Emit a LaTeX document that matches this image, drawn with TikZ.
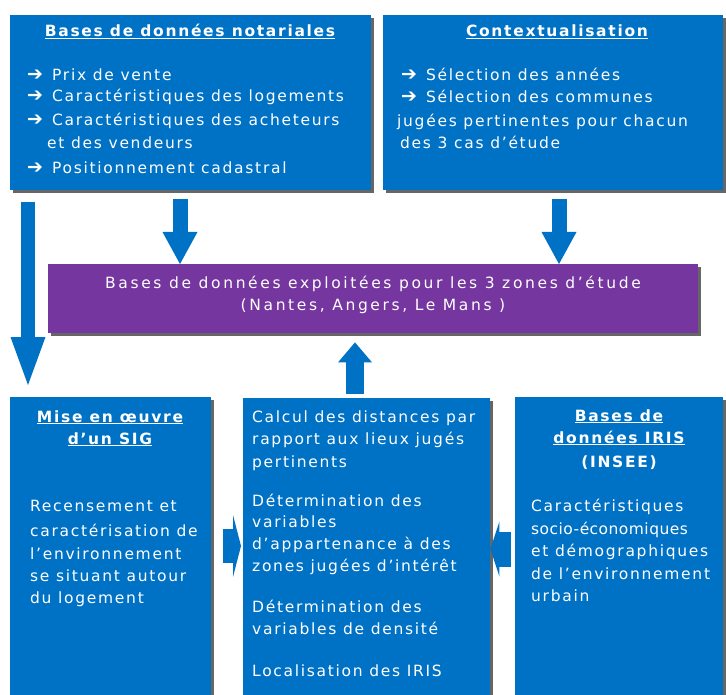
\documentclass[tikz,border=0pt]{standalone}
\usepackage{fontspec}
\setmainfont{DejaVu Sans}[LetterSpace=11]
\newfontfamily\tightfont{DejaVu Sans}[LetterSpace=3]
\newfontfamily\widefont{DejaVu Sans}[LetterSpace=17]
\usetikzlibrary{arrows.meta,shadows}
\definecolor{boxblue}{RGB}{0,114,198}
\definecolor{boxpurple}{RGB}{118,54,160}

\begin{document}
\begin{tikzpicture}[x=1pt,y=-1pt,inner sep=0pt]
    \tikzstyle{box}=[rectangle,fill=boxblue,anchor=north west,drop shadow={shadow xshift=2.5pt,shadow yshift=-3pt,fill=black!60,opacity=1}]
    \tikzstyle{line}=[text=white,text height=11pt,text depth=3pt,font=\fontsize{15.5}{18}\selectfont]
    \tikzstyle{title}=[line,font=\fontsize{15.5}{18}\selectfont\bfseries]
    \tikzstyle{bullet}=[line,font=\fontsize{19}{18}\selectfont\bfseries]
    \tikzstyle{blockarrow}=[draw=boxblue]
    \useasboundingbox (0,0) rectangle (726,695);
    \clip (0,0) rectangle (726,695);
    \fill[white] (0,0) rectangle (726,695);

    \node[box,minimum width=361,minimum height=175] (notar) at (10,15) {};
    \node[box,minimum width=340,minimum height=175] (context) at (383,15) {};
    \node[box,fill=boxpurple,minimum width=650,minimum height=69] (exploit) at (48,264) {};
    \node[box,minimum width=201,minimum height=320] (sig) at (10,397) {};
    \node[box,minimum width=247,minimum height=320] (calc) at (243,398) {};
    \node[box,minimum width=208,minimum height=320] (iris) at (515,397) {};

    \node[title] (tnotar) at (190,33) {\underline{Bases de données notariales}};
    \foreach \y/\txt [count=\k] in {77/Prix de vente,98/Caractéristiques des logements,122/Caractéristiques des acheteurs,170/Positionnement cadastral} {
        \node[bullet] (an\k) at (35,\y) {➔};
        \node[line,anchor=west] (pn\k) at (52,\y) {\txt};
    };
    \node[line,anchor=west] (pn5) at (47,145) {et des vendeurs};

    \node[title] (tcontext) at (557,33) {\underline{Contextualisation}};
    \foreach \y/\txt [count=\k] in {77/Sélection des années,99/Sélection des communes} {
        \node[bullet] (ac\k) at (409,\y) {➔};
        \node[line,anchor=west] (pc\k) at (426,\y) {\txt};
    };
    \node[line,anchor=west] (pc3) at (397,123) {jugées pertinentes pour chacun};
    \node[line,anchor=west] (pc4) at (400,145) {des 3 cas d’étude};

    \node[line,font=\widefont\fontsize{15.5}{18}\selectfont] (pe1) at (373,285) {Bases de données exploitées pour les 3 zones d’étude};
    \node[line,font=\widefont\fontsize{15.5}{18}\selectfont] (pe2) at (373,307) {(Nantes, Angers, Le Mans )};

    \node[title] (tsig1) at (110,418) {\underline{Mise en œuvre}};
    \node[title] (tsig2) at (110,440) {\underline{d’un SIG}};
    \foreach \y/\txt [count=\k] in {507/Recensement et,532/caractérisation de,555/l’environnement,577/se situant autour,599/du logement} {
        \node[line,anchor=west] (ps\k) at (30,\y) {\txt};
    };

    \foreach \y/\txt [count=\k] in {418/Calcul des distances par,440/rapport aux lieux jugés,463/pertinents,502/Détermination des,523/variables,545/d’appartenance à des,567/zones jugées d’intérêt,608/Détermination des,630/variables de densité,672/Localisation des IRIS} {
        \node[line,anchor=west] (pm\k) at (252,\y) {\txt};
    };

    \node[title] (tiris1) at (619,417) {\underline{Bases de}};
    \node[title] (tiris2) at (619,439) {\underline{données IRIS}};
    \node[title] (tiris3) at (619,463) {(INSEE)};
    \foreach \y/\txt [count=\k] in {507/Caractéristiques,552/et démographiques,575/de l’environnement,597/urbain} {
        \node[line,anchor=west] (pi\k) at (531,\y) {\txt};
    };
    \node[line,anchor=west,font=\tightfont\fontsize{15.5}{18}\selectfont] (pi5) at (531,530) {socio-économiques};

    \coordinate (a0) at (28,202);
    \coordinate (a1) at (180,199);
    \coordinate (a2) at (559,199);
    \coordinate (a3) at (355,394);
    \coordinate (a4) at (223,546);
    \coordinate (a5) at (511,549);
    \draw[blockarrow,line width=14pt,-{Triangle[length=48pt,width=35pt,line width=0pt]}] (a0) -- ([yshift=12pt]a0 |- sig.north);
    \draw[blockarrow,line width=15pt,-{Triangle[length=32pt,width=35pt,line width=0pt]}] (a1) -- (a1 |- exploit.north);
    \draw[blockarrow,line width=15pt,-{Triangle[length=32pt,width=35pt,line width=0pt]}] (a2) -- (a2 |- exploit.north);
    \draw[blockarrow,line width=18pt,-{Triangle[length=20pt,width=34pt,line width=0pt]}] (a3) -- ([yshift=-9pt]a3 |- exploit.south);
    \draw[blockarrow,line width=34pt,-{Triangle[length=8pt,width=62pt,line width=0pt]}] (a4) -- ([xshift=-2pt]a4 -| calc.west);
    \draw[blockarrow,line width=35pt,-{Triangle[length=9pt,width=55pt,line width=0pt]}] (a5) -- (a5 -| calc.east);
\end{tikzpicture}
\end{document}
